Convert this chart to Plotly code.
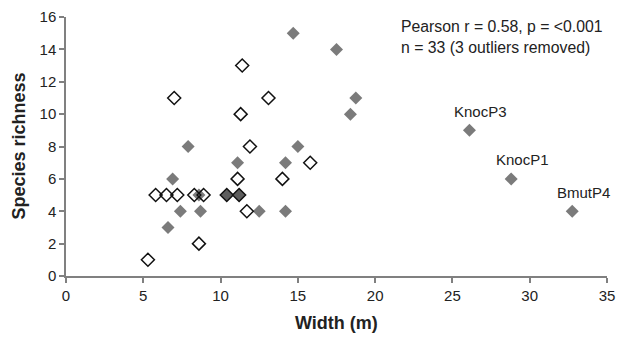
import plotly.graph_objects as go

# Open diamonds
open_x = [11.4, 7.0, 13.1, 11.3, 11.9, 15.8, 11.1, 14.0, 5.8, 6.5, 7.2, 8.3, 8.9, 11.7, 8.6, 5.3]
open_y = [13, 11, 11, 10, 8, 7, 6, 6, 5, 5, 5, 5, 5, 4, 2, 1]

# Filled grey diamonds
fill_x = [14.7, 17.5, 7.9, 6.9, 7.4, 8.7, 6.6, 8.6, 11.1, 12.5, 14.2, 14.2, 15.0, 18.75, 18.4]
fill_y = [15, 14, 8, 6, 4, 4, 3, 5, 7, 4, 7, 4, 8, 11, 10]

# Overlapping (dark) diamonds
dark_x = [10.4, 11.2]
dark_y = [5, 5]

# Labelled outliers
out_x = [26.1, 28.8, 32.75]
out_y = [9, 6, 4]
out_labels = ["KnocP3", "KnocP1", "BmutP4"]

x_ticks = [0, 5, 10, 15, 20, 25, 30, 35]
y_ticks = [0, 2, 4, 6, 8, 10, 12, 14, 16]

FONT = "Liberation Sans, Arial, sans-serif"
TXT = "#222222"

fig = go.Figure()
fig.add_trace(go.Scatter(x=fill_x, y=fill_y, mode="markers",
                         marker=dict(symbol="diamond", size=10, color="#7b7b7b",
                                     line=dict(width=0))))
fig.add_trace(go.Scatter(x=dark_x, y=dark_y, mode="markers",
                         marker=dict(symbol="diamond", size=10, color="#5e5e5e",
                                     line=dict(width=1.5, color="#111111"))))
fig.add_trace(go.Scatter(x=open_x, y=open_y, mode="markers",
                         marker=dict(symbol="diamond-open", size=10, color="#111111",
                                     line=dict(width=1.5, color="#111111"))))
fig.add_trace(go.Scatter(x=out_x, y=out_y, mode="markers",
                         marker=dict(symbol="diamond", size=10, color="#7b7b7b",
                                     line=dict(width=0))))

for lx, ly, lt in zip(out_x, out_y, out_labels):
    fig.add_annotation(x=lx, y=ly, xref="x", yref="y", text=lt, showarrow=False,
                       xanchor="center", yanchor="middle", xshift=11, yshift=19,
                       font=dict(family=FONT, size=15, color=TXT))

fig.add_annotation(x=1, y=1, xref="paper", yref="paper", xanchor="right", yanchor="top",
                   xshift=-2, yshift=1, align="left", showarrow=False,
                   text="Pearson r = 0.58, p = <0.001<br>n = 33 (3 outliers removed)",
                   font=dict(family=FONT, size=15.8, color=TXT))

# axis titles
fig.add_annotation(x=0.5, y=0, xref="paper", yref="paper", yanchor="middle",
                   yshift=-47, showarrow=False, text="<b>Width (m)</b>",
                   font=dict(family=FONT, size=18, color=TXT))
fig.add_annotation(x=0, y=0.5, xref="paper", yref="paper", xanchor="center",
                   xshift=-48, textangle=-90, showarrow=False, text="<b>Species richness</b>",
                   font=dict(family=FONT, size=18, color=TXT))

fig.update_layout(
    width=617, height=338,
    margin=dict(l=66, r=10, t=17, b=62),
    paper_bgcolor="white", plot_bgcolor="white",
    showlegend=False,
    font=dict(family=FONT, size=15, color=TXT),
)
fig.update_xaxes(range=[0, 35], tickvals=x_ticks, showgrid=False, zeroline=False,
                 showline=True, linecolor="#808080", linewidth=1.5, automargin=False,
                 ticks="outside", ticklen=5, tickcolor="#808080", tickwidth=1.5,
                 ticklabeloverflow="allow",
                 tickfont=dict(family=FONT, size=15, color=TXT))
fig.update_yaxes(range=[0, 16], tickvals=y_ticks, showgrid=False, zeroline=False,
                 showline=True, linecolor="#808080", linewidth=1.5, automargin=False,
                 ticks="outside", ticklen=5, tickcolor="#808080", tickwidth=1.5,
                 ticklabeloverflow="allow",
                 tickfont=dict(family=FONT, size=15, color=TXT))

fig.write_html("out.html", config={"displayModeBar": False},
               post_script="document.body.style.margin='0px';document.body.style.overflow='hidden';")
